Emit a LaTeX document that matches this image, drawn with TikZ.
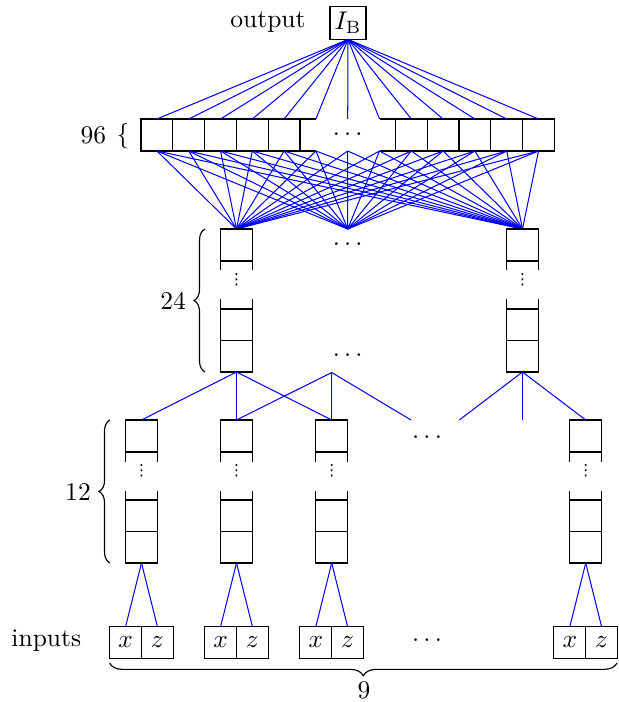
\documentclass[tikz,border=0pt]{standalone}
\usepackage{fontspec}
\newfontfamily\dvsans{DejaVu Sans}
\usetikzlibrary{decorations.pathreplacing}
\begin{document}
\begin{tikzpicture}[x=0.392pt,y=-0.392pt,
  cell/.style={draw=black,line width=0.45pt},
  wire/.style={draw=blue,line width=0.4pt},
  lbl/.style={inner sep=0pt,outer sep=0pt},
  vdotsty/.style={inner sep=0pt,outer sep=0pt,font=\dvsans\fontsize{6pt}{7pt}\selectfont},
  inbox/.style={draw=black,line width=0.45pt,minimum width=12.47pt,minimum height=12.39pt,inner sep=0pt,outer sep=0pt},
  bracestyle/.style={draw=black,line width=0.45pt,decorate,decoration={brace,amplitude=#1}}]
\useasboundingbox (0,0) rectangle (618,702);

% output
\node[inbox,minimum width=14.1pt,minimum height=12.9pt] (IB) at (348,23) {$I_{\mathrm{B}}$};
\node[lbl] (outlbl) at (268,22) {output};

% 96 layer
\def\Wc{31.8}
\draw[cell] (141,119) rectangle (300,151);
\foreach \k in {1,...,4} \draw[cell] ({141+\Wc*\k},119) -- ({141+\Wc*\k},151);
\draw[cell] (300,119) -- (315.9,119) (300,151) -- (315.9,151);
\draw[cell] (395.4,119) rectangle (554.4,151);
\foreach \k in {1,...,4} \draw[cell] ({395.4+\Wc*\k},119) -- ({395.4+\Wc*\k},151);
\draw[cell] (379.5,119) -- (395.4,119) (379.5,151) -- (395.4,151);
\node[lbl] (dots96) at (347.7,135) {$\cdots$};
\node[lbl] (n96) at (93.3,135) {96};
\node[lbl] (br96) at (123,136) {$\{$};

\foreach \k in {0,...,12} {
  \coordinate (t\k) at ({156.9+\Wc*\k},119);
  \coordinate (b\k) at ({156.9+\Wc*\k},151);
}
\foreach \k in {0,...,12} \draw[wire] (IB.south) -- (t\k);

% 24 layer points
\coordinate (a1t) at (236.5,229);
\coordinate (amt) at (347.7,229);
\coordinate (a2t) at (522.5,229);
\coordinate (a1b) at (236.5,372);
\coordinate (amb) at (331.7,372.5);
\coordinate (a2b) at (522.5,372);
\foreach \k in {0,...,12} \foreach \t in {a1t,amt,a2t} \draw[wire] (b\k) -- (\t);

% column stacks
\foreach \cx/\cy [count=\i] in {236.5/229, 522.5/229, 141.5/420, 236.5/420, 331.7/420, 585.7/420} {
  \draw[cell] (\cx-15.9,\cy+41.5) -- (\cx-15.9,\cy) -- (\cx+15.9,\cy) -- (\cx+15.9,\cy+41.5);
  \draw[cell] (\cx-15.9,\cy+32) -- (\cx+15.9,\cy+32);
  \draw[cell] (\cx-15.9,\cy+70.5) -- (\cx-15.9,\cy+143) -- (\cx+15.9,\cy+143) -- (\cx+15.9,\cy+70.5);
  \draw[cell] (\cx-15.9,\cy+80) -- (\cx+15.9,\cy+80);
  \draw[cell] (\cx-15.9,\cy+111.5) -- (\cx+15.9,\cy+111.5);
  \node[vdotsty] (vd\i) at (\cx,\cy+51) {⋮};
}
\node[lbl] (dots24a) at (347.7,245) {$\cdots$};
\node[lbl] (dots24b) at (347.7,356) {$\cdots$};
\node[lbl] (dots12) at (427,438) {$\cdots$};
\node[lbl] (dotsin) at (427,641) {$\cdots$};

% 24 -> 12
\coordinate (c1) at (141.5,420);
\coordinate (c2) at (236.5,420);
\coordinate (c3) at (331.7,420);
\coordinate (c4) at (585.7,420);
\coordinate (f1) at (411,420);
\coordinate (f2) at (459.3,420);
\coordinate (f3) at (522.5,420);
\draw[wire] (a1b) -- (c1);
\draw[wire] (a1b) -- (c2);
\draw[wire] (a1b) -- (c3);
\draw[wire] (amb) -- (c2);
\draw[wire] (amb) -- (c3);
\draw[wire] (amb) -- (f1);
\draw[wire] (a2b) -- (f2);
\draw[wire] (a2b) -- (f3);
\draw[wire] (a2b) -- (c4);

% inputs
\foreach \cx [count=\i] in {141.5,236.5,331.7,585.7} {
  \coordinate (d\i) at (\cx,563);
  \node[inbox] (x\i) at (\cx-15.9,642.5) {$x$};
  \node[inbox] (z\i) at (\cx+15.9,642.5) {$z$};
  \draw[wire] (d\i) -- (x\i.north);
  \draw[wire] (d\i) -- (z\i.north);
}

% braces and labels
\draw[bracestyle=4.3pt] (205,372) -- (205,229);
\draw[bracestyle=4.3pt] (110,563) -- (110,420);
\draw[bracestyle=5pt] (617,663) -- (109.6,663);
\node[lbl] (n24) at (173,301) {24};
\node[lbl] (n12) at (78,492) {12};
\node[lbl] (inlbl) at (46.3,641) {inputs};
\node[lbl] (n9) at (364,690) {9};
\end{tikzpicture}
\end{document}
